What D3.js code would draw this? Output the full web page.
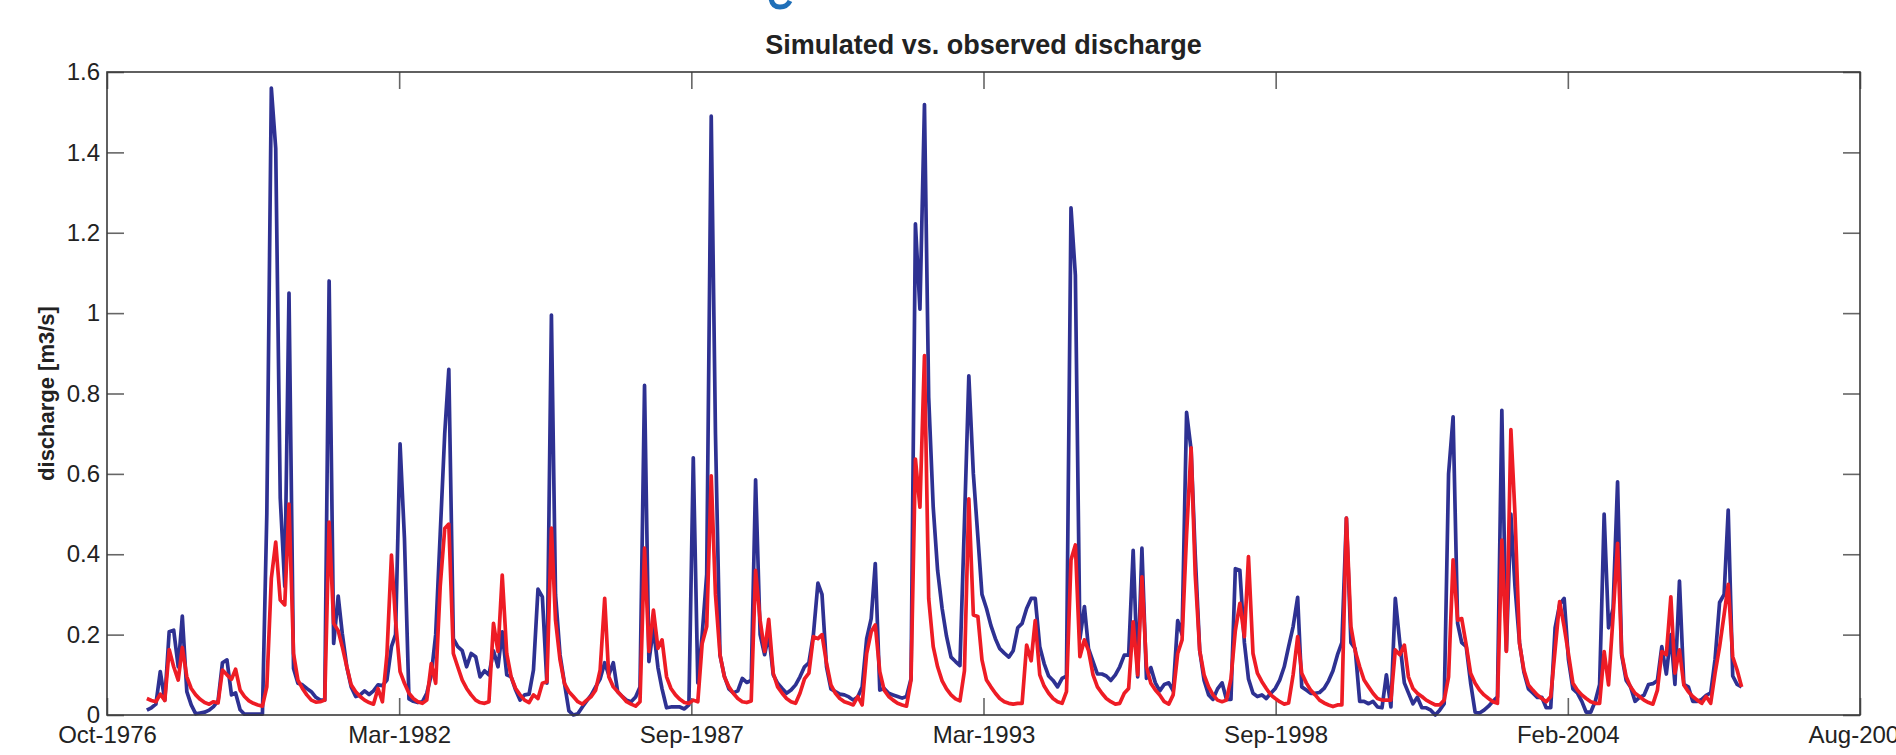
<!DOCTYPE html>
<html>
<head>
<meta charset="utf-8">
<script src="https://cdn.jsdelivr.net/npm/d3@7"></script>
<style>
  body { margin: 0; background: #fff; }
  text { font-family: "Liberation Sans", Arial, sans-serif; fill: #222; }
  .tick line { stroke: #666; stroke-width: 1.6; }
  .domain { display: none; }
</style>
</head>
<body>
<svg width="1896" height="755"></svg>
<script>
// monthly series, first value is Jul-1977
const startYear = 1977;
const startMonth = 6;

const observed = [
  0.012, 0.018, 0.027, 0.108, 0.037, 0.207, 0.211, 0.12, 0.246, 0.058,
  0.025, 0.003, 0.005, 0.007, 0.012, 0.021, 0.035, 0.13, 0.137, 0.05,
  0.055, 0.013, 0.002, 0.002, 0.002, 0.002, 0.002, 0.5, 1.56, 1.41,
  0.54, 0.32, 1.05, 0.116, 0.079, 0.075, 0.066, 0.058, 0.044, 0.037,
  0.037, 1.08, 0.178, 0.296, 0.203, 0.12, 0.07, 0.046, 0.05, 0.06,
  0.051, 0.06, 0.075, 0.073, 0.087, 0.17, 0.2, 0.675, 0.44, 0.04,
  0.034, 0.031, 0.033, 0.054, 0.1, 0.2, 0.45, 0.7, 0.86, 0.19,
  0.17, 0.16, 0.12, 0.153, 0.145, 0.095, 0.11, 0.1, 0.16, 0.12,
  0.207, 0.1, 0.095, 0.062, 0.037, 0.05, 0.052, 0.112, 0.313, 0.294,
  0.079, 0.995, 0.3, 0.15, 0.08, 0.01, 0.0, 0.003, 0.02, 0.035,
  0.05, 0.07, 0.09, 0.13, 0.1, 0.13, 0.058, 0.046, 0.037, 0.033,
  0.045, 0.07, 0.82, 0.133, 0.217, 0.118, 0.065, 0.018, 0.02, 0.02,
  0.02, 0.015, 0.025, 0.64, 0.08, 0.2, 0.35, 1.49, 0.7, 0.149,
  0.097, 0.065, 0.055, 0.06, 0.091, 0.081, 0.086, 0.585, 0.2, 0.15,
  0.2, 0.1, 0.079, 0.066, 0.054, 0.062, 0.075, 0.095, 0.12, 0.13,
  0.2, 0.328, 0.3, 0.12, 0.065, 0.058, 0.052, 0.05, 0.045, 0.037,
  0.045, 0.07, 0.19, 0.24, 0.377, 0.062, 0.066, 0.054, 0.05, 0.046,
  0.042, 0.046, 0.09, 1.222, 1.01, 1.519, 0.79, 0.517, 0.36, 0.265,
  0.196, 0.144, 0.133, 0.123, 0.48, 0.844, 0.6, 0.443, 0.3, 0.265,
  0.223, 0.19, 0.165, 0.154, 0.144, 0.16, 0.217, 0.228, 0.265, 0.29,
  0.29, 0.17, 0.128, 0.097, 0.086, 0.07, 0.091, 0.097, 1.262, 1.094,
  0.19, 0.27, 0.165, 0.133, 0.102, 0.102, 0.097, 0.086, 0.1, 0.12,
  0.149, 0.149, 0.41, 0.095, 0.415, 0.091, 0.118, 0.08, 0.06, 0.076,
  0.08, 0.06, 0.235, 0.2, 0.753, 0.66, 0.4, 0.16, 0.086, 0.05,
  0.039, 0.065, 0.08, 0.039, 0.039, 0.364, 0.36, 0.18, 0.09, 0.054,
  0.046, 0.05, 0.041, 0.054, 0.066, 0.087, 0.12, 0.17, 0.22, 0.293,
  0.07, 0.062, 0.054, 0.054, 0.056, 0.066, 0.085, 0.11, 0.15, 0.18,
  0.49, 0.18, 0.165, 0.034, 0.034, 0.028, 0.034, 0.02, 0.018, 0.1,
  0.02, 0.29, 0.18, 0.08, 0.055, 0.028, 0.044, 0.018, 0.018, 0.012,
  0.0, 0.012, 0.028, 0.6, 0.742, 0.228, 0.18, 0.17, 0.08, 0.007,
  0.005, 0.012, 0.022, 0.034, 0.045, 0.758, 0.16, 0.5, 0.32, 0.18,
  0.107, 0.065, 0.055, 0.044, 0.044, 0.018, 0.018, 0.217, 0.275, 0.29,
  0.139, 0.065, 0.055, 0.034, 0.007, 0.007, 0.034, 0.076, 0.5, 0.217,
  0.265, 0.58, 0.149, 0.086, 0.07, 0.034, 0.044, 0.049, 0.076, 0.078,
  0.086, 0.17, 0.102, 0.2, 0.076, 0.333, 0.076, 0.07, 0.034, 0.034,
  0.039, 0.049, 0.055, 0.139, 0.28, 0.3, 0.51, 0.097, 0.076, 0.07
];

const simulated = [
  0.041, 0.036, 0.033, 0.052, 0.036, 0.163, 0.12, 0.087, 0.168, 0.095,
  0.066, 0.05, 0.039, 0.031, 0.027, 0.033, 0.03, 0.112, 0.1, 0.089,
  0.114, 0.062, 0.046, 0.035, 0.029, 0.025, 0.022, 0.07, 0.34, 0.43,
  0.286, 0.274, 0.525, 0.153, 0.087, 0.066, 0.05, 0.037, 0.032, 0.033,
  0.037, 0.48, 0.228, 0.21, 0.17, 0.12, 0.075, 0.058, 0.046, 0.037,
  0.031, 0.027, 0.066, 0.033, 0.15, 0.398, 0.236, 0.108, 0.079, 0.054,
  0.041, 0.033, 0.029, 0.037, 0.128, 0.079, 0.32, 0.464, 0.475, 0.153,
  0.12, 0.087, 0.066, 0.05, 0.037, 0.031, 0.029, 0.033, 0.228, 0.158,
  0.348, 0.153, 0.095, 0.066, 0.05, 0.037, 0.031, 0.05, 0.041, 0.079,
  0.083, 0.465, 0.236, 0.137, 0.079, 0.058, 0.046, 0.033, 0.027, 0.037,
  0.046, 0.062, 0.112, 0.29, 0.095, 0.07, 0.058, 0.046, 0.033, 0.027,
  0.022, 0.033, 0.415, 0.158, 0.261, 0.166, 0.187, 0.095, 0.066, 0.05,
  0.039, 0.031, 0.029, 0.037, 0.033, 0.178, 0.22, 0.595, 0.3, 0.15,
  0.095, 0.07, 0.054, 0.041, 0.033, 0.031, 0.035, 0.36, 0.236, 0.158,
  0.238, 0.104, 0.07, 0.054, 0.041, 0.033, 0.029, 0.054, 0.09, 0.104,
  0.195, 0.19, 0.2, 0.129, 0.075, 0.054, 0.041, 0.033, 0.029, 0.025,
  0.046, 0.025, 0.153, 0.207, 0.224, 0.108, 0.062, 0.046, 0.037, 0.029,
  0.025, 0.022, 0.087, 0.637, 0.517, 0.894, 0.29, 0.17, 0.12, 0.085,
  0.065, 0.05, 0.04, 0.035, 0.11, 0.538, 0.249, 0.245, 0.137, 0.087,
  0.07, 0.054, 0.041, 0.033, 0.029, 0.027, 0.029, 0.029, 0.174, 0.135,
  0.235, 0.1, 0.072, 0.054, 0.041, 0.033, 0.029, 0.058, 0.386, 0.423,
  0.145, 0.187, 0.16, 0.1, 0.07, 0.054, 0.041, 0.033, 0.027, 0.029,
  0.054, 0.066, 0.232, 0.1, 0.344, 0.12, 0.079, 0.062, 0.05, 0.033,
  0.027, 0.05, 0.153, 0.187, 0.45, 0.665, 0.35, 0.16, 0.1, 0.07,
  0.05, 0.037, 0.033, 0.037, 0.09, 0.21, 0.278, 0.195, 0.394, 0.153,
  0.104, 0.083, 0.066, 0.05, 0.041, 0.033, 0.027, 0.03, 0.1, 0.195,
  0.104, 0.08, 0.062, 0.05, 0.037, 0.03, 0.025, 0.021, 0.025, 0.025,
  0.49, 0.22, 0.16, 0.12, 0.087, 0.07, 0.054, 0.041, 0.037, 0.037,
  0.037, 0.162, 0.15, 0.174, 0.095, 0.066, 0.054, 0.046, 0.037, 0.031,
  0.025, 0.025, 0.037, 0.095, 0.386, 0.236, 0.24, 0.174, 0.104, 0.079,
  0.062, 0.05, 0.041, 0.033, 0.029, 0.435, 0.158, 0.71, 0.5, 0.178,
  0.112, 0.075, 0.062, 0.05, 0.041, 0.033, 0.046, 0.162, 0.282, 0.22,
  0.153, 0.079, 0.062, 0.05, 0.041, 0.033, 0.029, 0.029, 0.158, 0.075,
  0.245, 0.427, 0.153, 0.095, 0.07, 0.054, 0.046, 0.037, 0.031, 0.027,
  0.062, 0.158, 0.15, 0.294, 0.104, 0.162, 0.075, 0.058, 0.046, 0.037,
  0.029, 0.046, 0.029, 0.104, 0.17, 0.25, 0.325, 0.145, 0.112, 0.07
];

const xTickLabels = ["Oct-1976", "Mar-1982", "Sep-1987", "Mar-1993", "Sep-1998", "Feb-2004", "Aug-2009"];
const yTicks = [0, 0.2, 0.4, 0.6, 0.8, 1, 1.2, 1.4, 1.6];

const svg = d3.select("svg");
const plotLeft = 107, plotRight = 1860, plotTop = 72, plotBottom = 715;

const t0 = new Date(1976, 9, 1);
const t1 = new Date(2009, 7, 20);
const x = d3.scaleTime().domain([t0, t1]).range([plotLeft, plotRight]);
const y = d3.scaleLinear().domain([0, 1.6]).range([plotBottom, plotTop]);

const xTickValues = d3.range(7).map(k => new Date(+t0 + k * (t1 - t0) / 6));
const dates = observed.map((d, i) => new Date(startYear, startMonth + i, 1));

// bit of a blue logo cut by the top edge of the figure
svg.append("path")
  .attr("d", "M771,-2 Q772,7 780,7 Q787,7 790,1")
  .attr("fill", "none")
  .attr("stroke", "#1f6fb8")
  .attr("stroke-width", 5);

// axes, ticks pointing inwards on all four sides
svg.append("g")
  .attr("transform", `translate(0,${plotBottom})`)
  .call(d3.axisBottom(x).tickValues(xTickValues).tickSize(-17).tickPadding(11)
    .tickFormat((d, i) => xTickLabels[i]))
  .selectAll("text").style("font-size", "24px");

svg.append("g")
  .attr("transform", `translate(0,${plotTop})`)
  .call(d3.axisTop(x).tickValues(xTickValues).tickSize(-17).tickFormat(""));

svg.append("g")
  .attr("transform", `translate(${plotLeft},0)`)
  .call(d3.axisLeft(y).tickValues(yTicks).tickSize(-17).tickPadding(7)
    .tickFormat(d3.format("")))
  .selectAll("text").style("font-size", "24px");

svg.append("g")
  .attr("transform", `translate(${plotRight},0)`)
  .call(d3.axisRight(y).tickValues(yTicks).tickSize(-17).tickFormat(""));

svg.selectAll(".tick text").attr("fill", "#222");

const line = d3.line()
  .x((d, i) => x(dates[i]))
  .y(d => y(d));

svg.append("path")
  .attr("d", line(observed))
  .attr("fill", "none")
  .attr("stroke", "#2e3192")
  .attr("stroke-width", 3.7)
  .attr("stroke-linejoin", "round");

svg.append("path")
  .attr("d", line(simulated))
  .attr("fill", "none")
  .attr("stroke", "#ee1c25")
  .attr("stroke-width", 3.7)
  .attr("stroke-linejoin", "round");

// box
svg.append("rect")
  .attr("x", plotLeft).attr("y", plotTop)
  .attr("width", plotRight - plotLeft).attr("height", plotBottom - plotTop)
  .attr("fill", "none")
  .attr("stroke", "#3a3a3a")
  .attr("stroke-width", 1.6);

svg.append("text")
  .attr("x", (plotLeft + plotRight) / 2)
  .attr("y", 54)
  .attr("text-anchor", "middle")
  .style("font-size", "27px")
  .style("font-weight", "bold")
  .text("Simulated vs. observed discharge");

svg.append("text")
  .attr("transform", `translate(54,${(plotTop + plotBottom) / 2}) rotate(-90)`)
  .attr("text-anchor", "middle")
  .style("font-size", "22px")
  .style("font-weight", "bold")
  .text("discharge [m3/s]");
</script>
</body>
</html>
